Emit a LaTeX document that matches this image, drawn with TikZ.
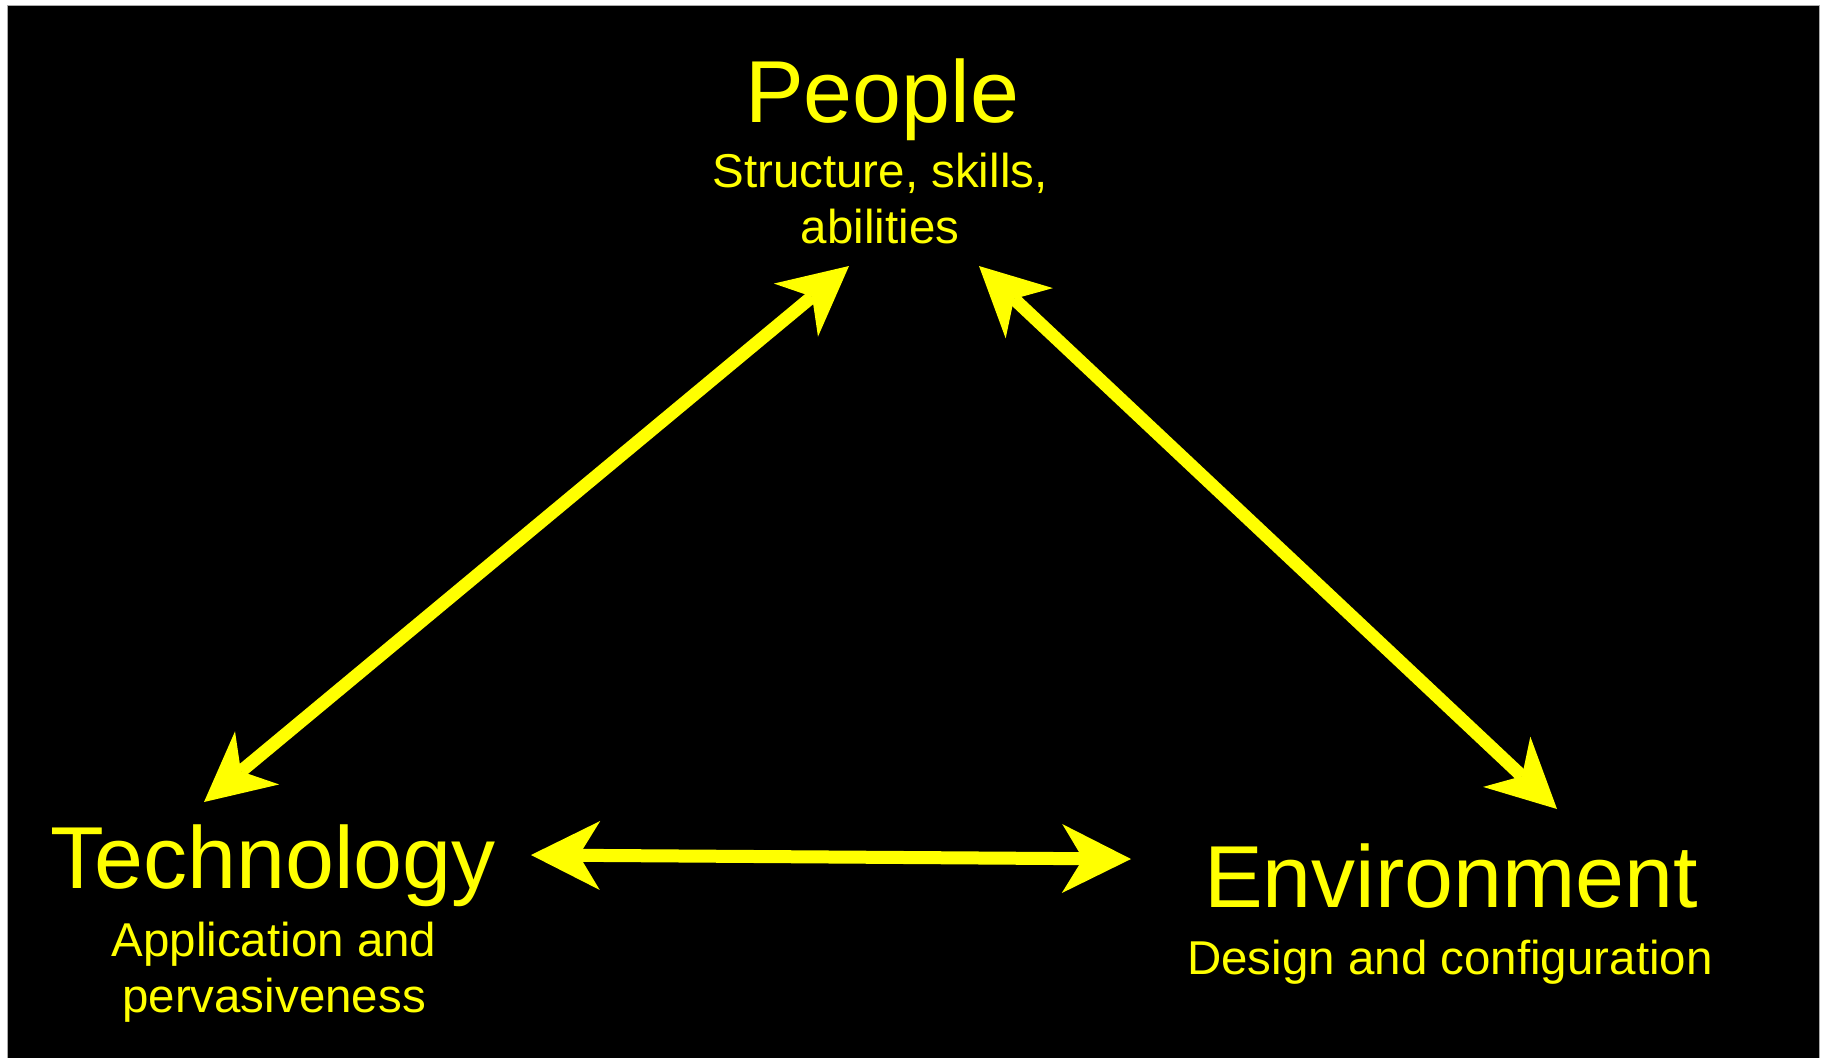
\documentclass[tikz,border=0pt]{standalone}
\usepackage{fontspec}
\setmainfont{Liberation Sans}
\usetikzlibrary{arrows.meta}
\definecolor{custom-yellow}{RGB}{255, 255, 0}
\definecolor{custom-frame}{RGB}{170, 170, 170}

\begin{document}
\begin{tikzpicture}[x=0.5pt, y=-0.5pt,
    maintext/.style={text=custom-yellow, anchor=base, inner sep=0pt, font=\fontsize{44}{52}\selectfont},
    subtext/.style={text=custom-yellow, anchor=base, inner sep=0pt, align=center, font=\fontsize{23.75}{28}\selectfont},
    linkarrow/.style={draw=custom-yellow, line width=6.5pt, {Stealth[length=34.5pt, width=34.5pt, inset=10.5pt, line width=0pt]}-{Stealth[length=34.5pt, width=34.5pt, inset=10.5pt, line width=0pt]}}]
\useasboundingbox (0,0) rectangle (1822,1057);
\fill[white] (0,0) rectangle (1822,1057);
\filldraw[fill=black, draw=custom-frame, line width=0.5pt] (7,5) rectangle (1819,1062);

% the three corners (sub texts sit on their last line)
\node[maintext] (people) at (882,122) {People};
\node[subtext] (people-sub) at (880,243) {Structure, skills,\\abilities};
\node[maintext] (tech) at (273,888) {Technology};
\node[subtext] (tech-sub) at (274,1012) {Application and\\pervasiveness};
\node[maintext] (env) at (1451,907) {Environment};
\node[subtext] (env-sub) at (1450,974) {Design and configuration};

% arrow ends
\coordinate (people-w) at (849,266);
\coordinate (people-e) at (979,266);
\coordinate (tech-n) at (204,802);
\coordinate (tech-e) at (531,855);
\coordinate (env-w) at (1131,859);
\coordinate (env-n) at (1557,809);

\draw[linkarrow] (tech-n) -- (people-w);
\draw[linkarrow] (people-e) -- (env-n);
\draw[linkarrow] (tech-e) -- (env-w);
\end{tikzpicture}
\end{document}
